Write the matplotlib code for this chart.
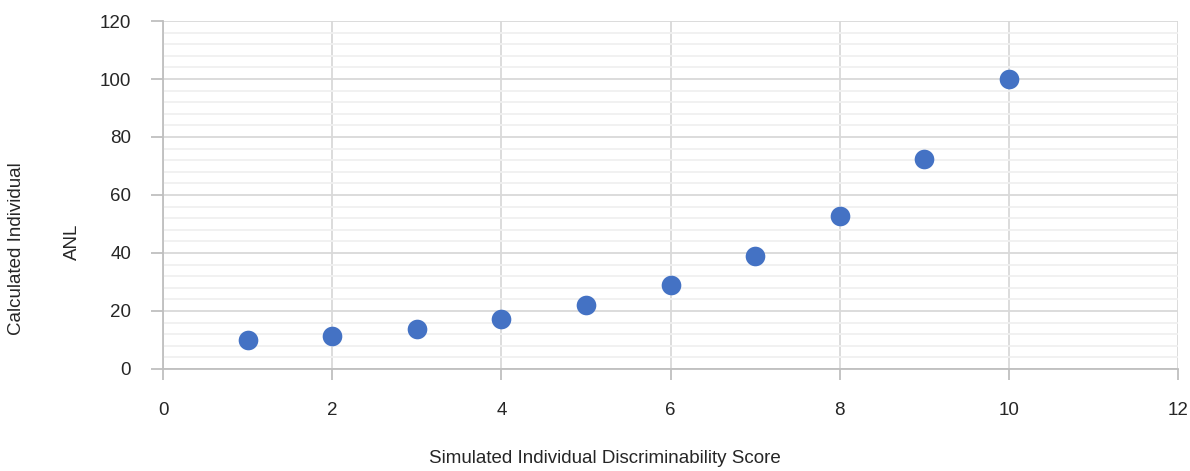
import matplotlib.pyplot as plt
from matplotlib.ticker import MultipleLocator

score = [1, 2, 3, 4, 5, 6, 7, 8, 9, 10]
anl = [10.0, 11.4, 13.8, 17.2, 22.1, 29.0, 39.0, 52.8, 72.3, 100.0]

plt.rcParams['font.family'] = ['Liberation Sans', 'DejaVu Sans']

fig = plt.figure(figsize=(11.9, 4.71), dpi=100)
ax = fig.add_axes([0.137, 0.2166, 0.853, 0.7388])

ax.scatter(score, anl, s=200, color='#4472C4', zorder=3, linewidths=0)

ax.set_xlim(0, 12)
ax.set_ylim(0, 120)
ax.xaxis.set_major_locator(MultipleLocator(2))
ax.yaxis.set_major_locator(MultipleLocator(20))
ax.yaxis.set_minor_locator(MultipleLocator(4))

ax.grid(which='major', color='#d9d9d9', linewidth=1.3)
ax.grid(which='minor', axis='y', color='#f0f0f0', linewidth=1.3)
ax.set_axisbelow(True)

for side in ['top', 'right']:
    ax.spines[side].set_visible(False)
for side in ['left', 'bottom']:
    ax.spines[side].set_color('#bfbfbf')
    ax.spines[side].set_linewidth(1.3)

ax.tick_params(axis='x', which='major', length=8, width=1.3, color='#bfbfbf',
               pad=16, labelsize=13.5, labelcolor='#262626')
ax.tick_params(axis='y', which='major', length=9, width=1.3, color='#bfbfbf',
               pad=14, labelsize=13.5, labelcolor='#262626')
ax.tick_params(axis='y', which='minor', length=0)

fig.text(0.508, 0.026, 'Simulated Individual Discriminability Score',
         ha='center', va='center', fontsize=13.5, color='#262626')
fig.text(0.014, 0.473, 'Calculated Individual', rotation=90,
         ha='center', va='center', fontsize=13.5, color='#262626')
fig.text(0.061, 0.486, 'ANL', rotation=90,
         ha='center', va='center', fontsize=13.5, color='#262626')

fig.savefig('out.png', dpi=100)
